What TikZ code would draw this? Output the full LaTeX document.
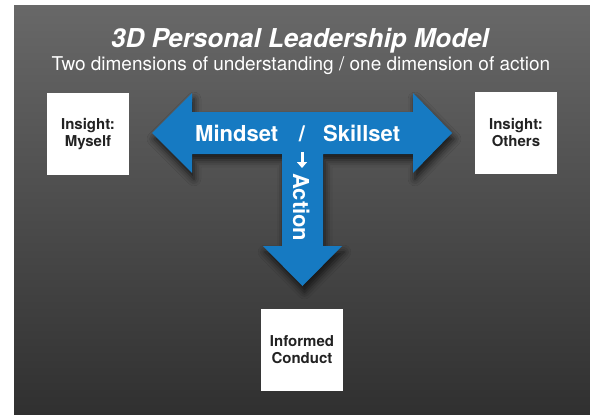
\documentclass[tikz,border=0pt]{standalone}
\usepackage{fontspec}
\setmainfont{TeX Gyre Heros}
\usepackage{tikz}
\usetikzlibrary{
    positioning,
    arrows.meta,
    calc,
    shadows.blur
}
\definecolor{arrowBlue}{RGB}{22, 122, 194}
\definecolor{bgTop}{RGB}{104, 104, 104}
\definecolor{bgBottom}{RGB}{48, 48, 48}
\definecolor{boxText}{RGB}{34, 34, 34}

\begin{document}
\begin{tikzpicture}[x=1pt, y=-1pt, >={Triangle[width=10pt, length=6pt]},
        insight/.style={fill=white, minimum width=82pt, minimum height=82pt,
            inner sep=0pt, align=center, text=boxText,
            font=\bfseries\fontsize{15}{17}\selectfont},
        armtext/.style={text=white, inner sep=0pt,
            font=\bfseries\fontsize{22}{26}\selectfont}]
        \useasboundingbox (0,0) rectangle (590,415);

        % 背景
        \shade[top color=bgTop, bottom color=bgBottom] (14,5) rectangle (590,415);

        % タイトル
        \node[anchor=base, text=white, inner sep=0pt,
            font=\bfseries\itshape\fontsize{26}{30}\selectfont] (title) at (300,48)
            {3D Personal Leadership Model};
        \node[anchor=base, text=white, inner sep=0pt,
            font=\fontsize{19}{22}\selectfont] (subtitle) at (301,70)
            {Two dimensions of understanding / one dimension of action};

        % T字の矢印
        \fill[arrowBlue, blur shadow={shadow xshift=2pt, shadow yshift=-6pt,
                shadow blur radius=7pt, shadow opacity=70}]
            (152,133) -- (192,93) -- (192,112) -- (413,112) -- (413,93)
            -- (452,133) -- (413,173) -- (413,154) -- (323,154) -- (323,246)
            -- (342,246) -- (302.5,286) -- (263,246) -- (282,246) -- (282,154)
            -- (192,154) -- (192,173) -- cycle;

        \node[armtext, anchor=base west] (mindset) at (195,141) {Mindset};
        \node[armtext, anchor=base] (slash) at (302,141) {/};
        \node[armtext, anchor=base west] (skillset) at (323,141) {Skillset};
        \node[armtext, anchor=base west, rotate=-90] (action) at (293,173) {Action};

        \coordinate (downTop) at (302,152);
        \coordinate (downEnd) at (302,168);
        \draw[->, white, line width=3pt] (downTop) -- (downEnd);

        % 箱
        \node[insight] (myself) at (88,134) {Insight:\\Myself};
        \node[insight] (others) at (516,133) {Insight:\\Others};
        \node[insight] (conduct) at (302,350) {Informed\\Conduct};
\end{tikzpicture}
\end{document}
